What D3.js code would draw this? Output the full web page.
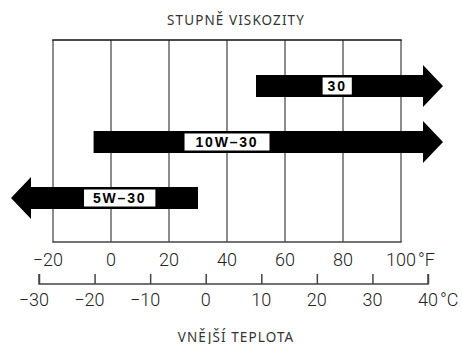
<!DOCTYPE html>
<html>
<head>
<meta charset="utf-8">
<script src="https://cdn.jsdelivr.net/npm/d3@7"></script>
<style>
  html, body { margin: 0; padding: 0; background: #fff; }
  svg { display: block; }
</style>
</head>
<body>
<svg id="chart" width="462" height="344"></svg>
<script>
// Viscosity grades and the outdoor temperature range (°F) each one covers.
// null = open-ended (arrow runs off that side of the scale).
const grades = ["30", "10W-30", "5W-30"];
const lowF = [50, -6, null];
const highF = [null, null, 30];

// Axis ticks
const ticksF = [-20, 0, 20, 40, 60, 80, 100];
const ticksC = [-30, -20, -10, 0, 10, 20, 30, 40];

const titleTop = "STUPNĚ VISKOZITY";
const titleBottom = "VNĚJŠÍ TEPLOTA";

// Layout
const frame = { left: 53, right: 401, top: 40, bottom: 242 };
const bodyH = 22, headH = 42, headLen = 20, overrun = 22;
const labelAt = { "30": 78, "10W-30": 40, "5W-30": 3 };   // °F where the tag sits
const labelPad = { "30": 5, "10W-30": 11, "5W-30": 9 };

const svg = d3.select("#chart");

const xF = d3.scaleLinear().domain([-20, 100]).range([frame.left, frame.right]);
const xC = d3.scaleLinear().domain([-30, 40]).range([39, 428]);
const y = d3.scalePoint().domain(grades).range([86, 198]);

const titleFont = "'Noto Sans', 'DejaVu Sans', sans-serif";
const numFont = "Roboto, 'Liberation Sans', sans-serif";

// Titles
[[titleTop, 25], [titleBottom, 341.5]].forEach(([txt, yy]) => {
  svg.append("text")
    .attr("x", 236).attr("y", yy)
    .attr("text-anchor", "middle")
    .attr("font-family", titleFont).attr("font-size", 13.5)
    .attr("letter-spacing", 1.1)
    .attr("fill", "#333")
    .text(txt);
});

// Grid frame: vertical lines at each °F tick, top and bottom borders
const grid = svg.append("g");
grid.selectAll("line.v").data(ticksF).join("line")
  .attr("class", "v")
  .attr("x1", d => xF(d)).attr("x2", d => xF(d))
  .attr("y1", frame.top).attr("y2", frame.bottom)
  .attr("stroke", "#666").attr("stroke-width", 1.5);
grid.append("line")
  .attr("x1", frame.left - 0.75).attr("x2", frame.right + 0.75)
  .attr("y1", frame.top).attr("y2", frame.top)
  .attr("stroke", "#111").attr("stroke-width", 1.5);
grid.append("line")
  .attr("x1", frame.left - 0.75).attr("x2", frame.right + 0.75)
  .attr("y1", frame.bottom).attr("y2", frame.bottom)
  .attr("stroke", "#444").attr("stroke-width", 1.5);

// Arrows
const rows = grades.map((g, i) => ({ grade: g, lo: lowF[i], hi: highF[i] }));

function arrowPath(d) {
  const cy = y(d.grade);
  const x0 = d.lo == null ? xF.range()[0] - overrun : xF(d.lo);
  const x1 = d.hi == null ? xF.range()[1] + overrun : xF(d.hi);
  const b = bodyH / 2, h = headH / 2;
  const p = d3.path();
  if (d.hi == null) {
    // arrow head pointing right
    p.moveTo(x0, cy - b);
    p.lineTo(x1, cy - b);
    p.lineTo(x1, cy - h);
    p.lineTo(x1 + headLen, cy);
    p.lineTo(x1, cy + h);
    p.lineTo(x1, cy + b);
    p.lineTo(x0, cy + b);
  } else {
    // arrow head pointing left
    p.moveTo(x1, cy - b);
    p.lineTo(x0, cy - b);
    p.lineTo(x0, cy - h);
    p.lineTo(x0 - headLen, cy);
    p.lineTo(x0, cy + h);
    p.lineTo(x0, cy + b);
    p.lineTo(x1, cy + b);
  }
  p.closePath();
  return p.toString();
}

const arrows = svg.append("g").selectAll("g").data(rows).join("g");
arrows.append("path").attr("d", arrowPath).attr("fill", "#000");

// Grade tags: white box with bold text
arrows.each(function (d) {
  const g = d3.select(this);
  const cx = xF(labelAt[d.grade]);
  const cy = y(d.grade);
  const rect = g.append("rect").attr("fill", "#fff");
  const t = g.append("text")
    .attr("x", cx).attr("y", cy + 5)
    .attr("text-anchor", "middle")
    .attr("font-family", "'Liberation Sans', Arial, sans-serif")
    .attr("font-weight", "bold").attr("font-size", 14)
    .attr("letter-spacing", 1.8)
    .attr("fill", "#000")
    .text(d.grade.replace("-", "\u2013"));
  const w = t.node().getComputedTextLength();
  const pad = labelPad[d.grade];
  rect.attr("x", cx - w / 2 - pad).attr("width", w + 2 * pad)
    .attr("y", cy - 8.5).attr("height", 17);
});

// Tick label helper: digits centred on the tick, minus sign hanging left
function numLabel(sel, value, x, yBase, unit) {
  const g = sel.append("g");
  const t = g.append("text")
    .attr("x", x).attr("y", yBase)
    .attr("text-anchor", "middle")
    .attr("font-family", numFont).attr("font-weight", 300)
    .attr("font-size", 18).attr("fill", "#222")
    .text(Math.abs(value));
  const w = t.node().getComputedTextLength();
  if (value < 0) {
    g.append("text")
      .attr("x", x - w / 2).attr("y", yBase)
      .attr("text-anchor", "end")
      .attr("font-family", numFont).attr("font-weight", 300)
      .attr("font-size", 18).attr("fill", "#222")
      .text("\u2212");
  }
  if (unit) {
    g.append("text")
      .attr("x", x + w / 2 + 2).attr("y", yBase)
      .attr("text-anchor", "start")
      .attr("font-family", numFont).attr("font-weight", 300)
      .attr("font-size", 18).attr("fill", "#222")
      .text(unit);
  }
}

// Fahrenheit labels under the grid
const fLabels = svg.append("g");
ticksF.forEach((v, i) => numLabel(fLabels, v, xF(v), 266, i === ticksF.length - 1 ? "°F" : null));

// Celsius scale
const cAxis = svg.append("g").attr("transform", "translate(0,284)");
cAxis.call(d3.axisTop(xC).tickValues(ticksC).tickSize(10).tickFormat(""));
cAxis.select(".domain").attr("d", `M${xC(-30)},-10V0H${xC(40)}V-10`)
  .attr("stroke", "#444").attr("stroke-width", 1.5);
cAxis.selectAll(".tick line").attr("stroke", "#444").attr("stroke-width", 1.5);

const cLabels = svg.append("g");
ticksC.forEach((v, i) => numLabel(cLabels, v, xC(v), 305.5, i === ticksC.length - 1 ? "°C" : null));
</script>
</body>
</html>
